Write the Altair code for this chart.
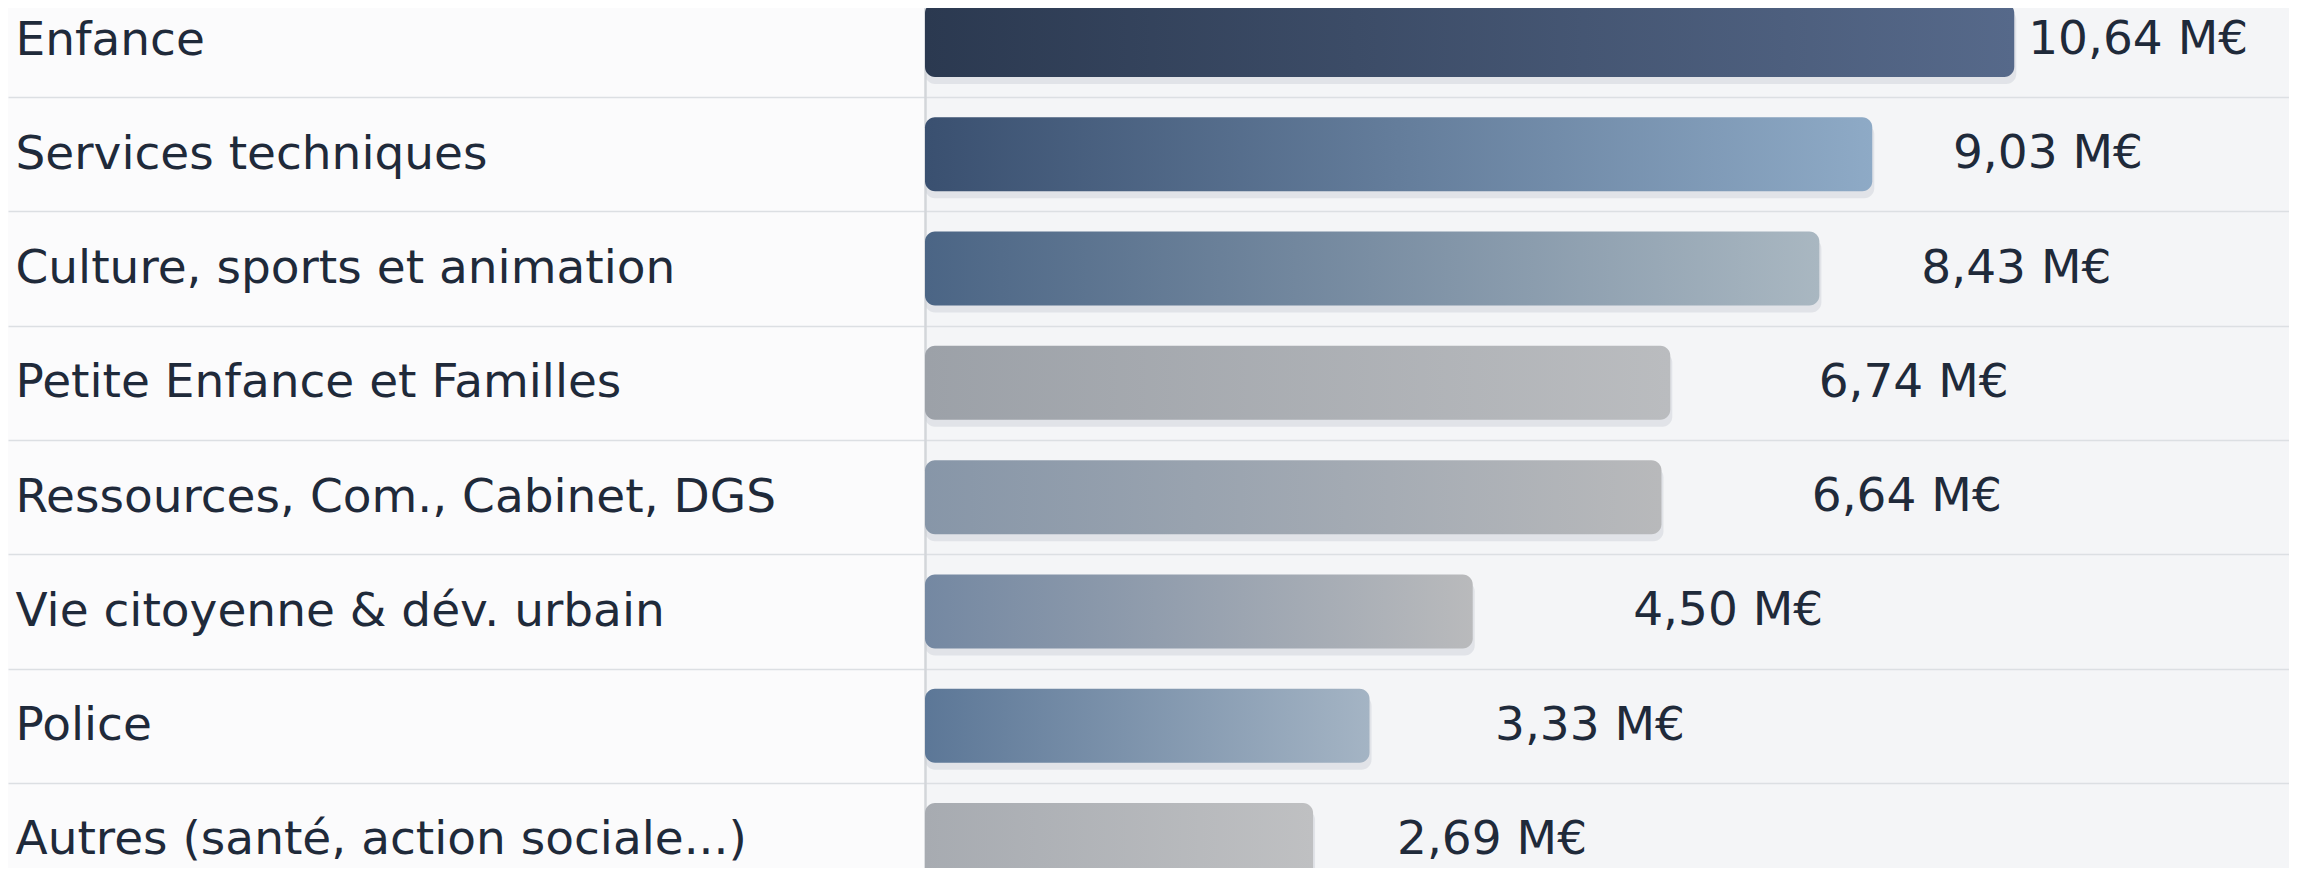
import altair as alt
import pandas as pd

# ---- data ----
categories = [
    "Enfance",
    "Services techniques",
    "Culture, sports et animation",
    "Petite Enfance et Familles",
    "Ressources, Com., Cabinet, DGS",
    "Vie citoyenne & dév. urbain",
    "Police",
    "Autres (santé, action sociale...)",
]
values = [10.64, 9.03, 8.43, 6.74, 6.64, 4.50, 3.33, 2.69]
value_labels = [f"{v:.2f}".replace(".", ",") + " M€" for v in values]

# ---- styles ----
gradients = [
    ("#2b3950", "#56698a"),
    ("#3a5070", "#8eaac6"),
    ("#4b6585", "#a9b7c1"),
    ("#9ca1a8", "#babcbf"),
    ("#8796a8", "#b8b9bb"),
    ("#7488a2", "#b9babc"),
    ("#5c7797", "#a4b4c4"),
    ("#a7abb1", "#bfc0c2"),
]
TEXT = "#1f2a3a"
FONT = "DejaVu Sans"
FS = 47
W, H = 1364, 860
PAD_LEFT = 917
BASE = -1.71
XMAX = 13.755

df = pd.DataFrame({"cat": categories, "value": values, "label": value_labels})

yenc = alt.Y(
    "cat:N",
    sort=categories,
    scale=alt.Scale(domain=categories, range=[-25.1, 889.1], paddingInner=0, paddingOuter=0),
    axis=alt.Axis(
        title=None,
        domain=True,
        domainColor="#d3d6da",
        domainWidth=2.5,
        ticks=True,
        tickBand="extent",
        tickSize=917,
        tickColor="#dcdfe3",
        tickWidth=1.5,
        grid=True,
        gridColor="#dcdfe3",
        gridWidth=1.5,
        labelAlign="left",
        labelBaseline="middle",
        labelPadding=-7,
        labelFont=FONT,
        labelFontSize=FS,
        labelColor=TEXT,
        labelLimit=1200,
    ),
)

xscale = alt.Scale(domain=[BASE, XMAX], nice=False, zero=False)
base = alt.Chart(df)

shadow = base.mark_bar(size=74, cornerRadiusEnd=10, color="#c9ced5", opacity=0.45, yOffset=7, xOffset=2).encode(
    x=alt.X("value:Q", scale=xscale, axis=None),
    x2=alt.datum(BASE),
    y=yenc,
)

layers = [shadow]
for cat, (c0, c1) in zip(categories, gradients):
    layers.append(
        base.transform_filter(alt.datum.cat == cat)
        .mark_bar(
            size=74,
            cornerRadiusEnd=10,
            color=alt.Gradient(
                gradient="linear",
                stops=[alt.GradientStop(color=c0, offset=0), alt.GradientStop(color=c1, offset=1)],
                x1=0, x2=1, y1=0, y2=0,
            ),
        )
        .encode(x=alt.X("value:Q", scale=xscale, axis=None), x2=alt.datum(BASE), y=yenc)
    )

text = base.mark_text(align="left", baseline="middle", font=FONT, fontSize=FS, color=TEXT).encode(
    x=alt.X("value:Q", scale=alt.Scale(type="log", domain=[0.962, 18.78], nice=False), axis=None),
    y=yenc,
    text="label:N",
)
layers.append(text)

chart = (
    alt.layer(*layers)
    .resolve_scale(x="independent")
    .properties(
        width=W,
        height=H,
        autosize=alt.AutoSizeParams(type="none"),
        padding={"left": PAD_LEFT, "top": 0, "right": 0, "bottom": 0},
        background="#fbfbfc",
    )
    .configure_view(fill="#f4f5f7", strokeWidth=0)
)

chart.save("out.html", embed_options={"renderer": "svg", "actions": False})
